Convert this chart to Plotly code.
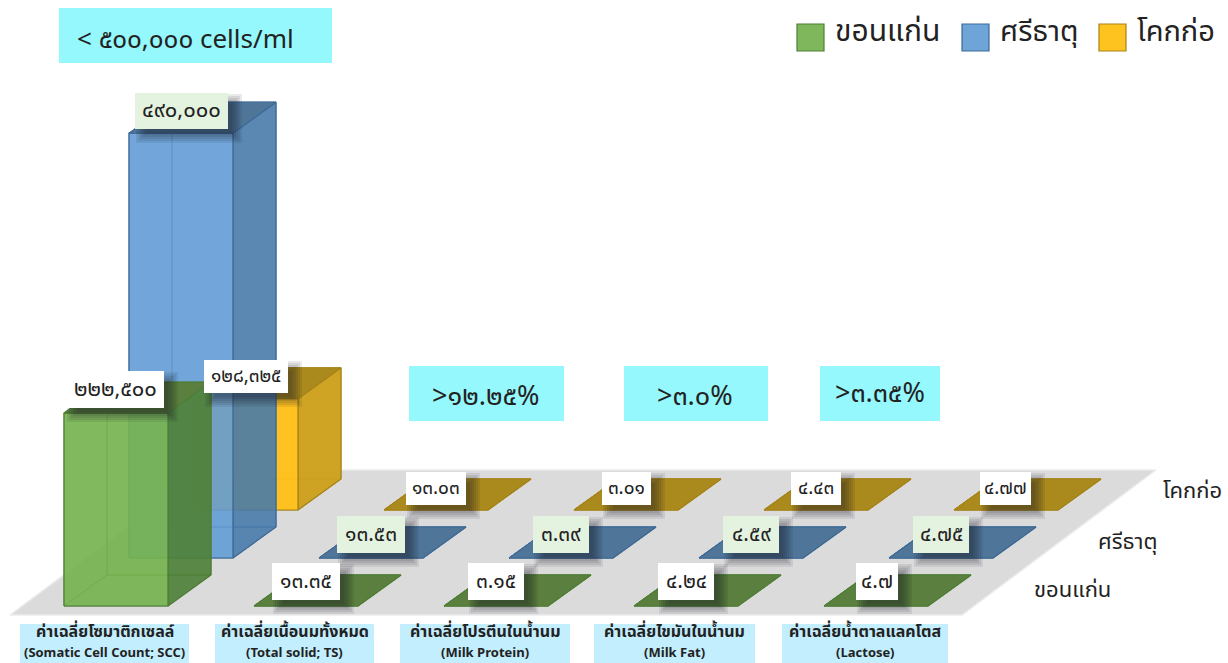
import plotly.graph_objects as go

# ---------- data ----------
categories_th = ["ค่าเฉลี่ยโซมาติกเซลล์", "ค่าเฉลี่ยเนื้อนมทั้งหมด", "ค่าเฉลี่ยโปรตีนในน้ำนม", "ค่าเฉลี่ยไขมันในน้ำนม", "ค่าเฉลี่ยน้ำตาลแลคโตส"]
categories_en = ["(Somatic Cell Count; SCC)", "(Total solid; TS)", "(Milk Protein)", "(Milk Fat)", "(Lactose)"]
series_names = ["ขอนแก่น", "ศรีธาตุ", "โคกก่อ"]
khon_kaen = [222500, 13.35, 3.15, 4.24, 4.7]
si_that = [490000, 13.53, 3.39, 4.59, 4.75]
khok_ko = [128325, 13.03, 3.01, 4.43, 4.77]
standards = ["< ๕๐๐,๐๐๐ cells/ml", ">๑๒.๒๕%", ">๓.๐%", ">๓.๓๕%"]

# ---------- style / geometry ----------
W, H = 1228, 663
PX_PER_UNIT = 0.000867        # value scale of the y axis
BASE_PX = 606                 # pixel row of value 0 on the front row
CAT_STEP, X0, BAR_W = 190, 64, 104
ROW_DX, ROW_DY = 65, 48
DEPTH_DX, DEPTH_DY = 43, 31
FONT = "Noto Sans Thai, Noto Sans, Tahoma, sans-serif"
TEXT = "#222222"

PAL = [
    dict(front="rgba(118,178,80,0.90)", side="rgba(78,128,55,0.90)", top="#5A7F3E", back="rgba(140,195,105,0.20)", line="#4F7F36"),
    dict(front="rgba(96,155,213,0.87)", side="rgba(70,121,168,0.87)", top="#4F7699", back="rgba(130,180,225,0.20)", line="#3F6A95"),
    dict(front="rgba(255,192,25,0.95)", side="rgba(204,160,30,0.95)", top="#AA8A1C", back="rgba(255,192,25,0.35)", line="#A5831A"),
]
SWATCH = ["#7FB75D", "#6FA4D8", "#FFC31F"]
SWATCH_LINE = ["#4F7F36", "#3F6A95", "#A5831A"]


def dy(px):
    """pixel distance -> y-axis units"""
    return px / PX_PER_UNIT


def py(p):
    """pixel row -> paper fraction"""
    return 1 - p / H


fig = go.Figure()


def poly(xs, ys, fill, line, lw=1.2):
    fig.add_trace(go.Scatter(x=xs + xs[:1], y=ys + ys[:1], mode="lines", fill="toself", fillcolor=fill,
                             line=dict(color=line, width=lw), hoverinfo="skip", showlegend=False))


# floor
fx, fy = 10, -dy(615 - BASE_PX)
fig.add_trace(go.Scatter(x=[fx, 962, 1156, 204, fx], y=[fy, fy, fy + dy(145), fy + dy(145), fy], mode="lines",
                         fill="toself", fillcolor="#DCDBDC", line=dict(color="#ECECEC", width=1.5),
                         hoverinfo="skip", showlegend=False))


def bar(i, s, v):
    c = PAL[s]
    x0 = X0 + CAT_STEP * i + ROW_DX * s
    x1 = x0 + BAR_W
    y0 = dy(ROW_DY * s)
    y1 = y0 + v
    d, e = DEPTH_DX, dy(DEPTH_DY)
    poly([x0 + d, x1 + d, x1 + d, x0 + d], [y0 + e, y0 + e, y1 + e, y1 + e], c["back"], c["line"], 0.8)  # back
    poly([x0, x0 + d, x0 + d, x0], [y0, y0 + e, y1 + e, y1], c["back"], c["line"], 0.8)                  # left
    poly([x0, x1, x1 + d, x0 + d], [y0, y0, y0 + e, y0 + e], c["back"], c["line"], 0.8)                  # bottom
    poly([x1, x1 + d, x1 + d, x1], [y0, y0 + e, y1 + e, y1], c["side"], c["line"])                        # right
    poly([x0, x1, x1, x0], [y0, y0, y1, y1], c["front"], c["line"])                                       # front
    poly([x0, x1, x1 + d, x0 + d], [y1, y1, y1 + e, y1 + e], c["top"], c["line"])                         # top


rows = [khon_kaen, si_that, khok_ko]
for s in [2, 1, 0]:
    for i, v in enumerate(rows[s]):
        bar(i, s, v)

shapes, annotations = [], []


def rect(x0, y0, x1, y1, color, line=None, lw=0):
    shapes.append(dict(type="rect", xref="x", yref="paper", x0=x0, x1=x1, y0=py(y1), y1=py(y0), layer="above",
                       fillcolor=color, line=dict(color=line or color, width=lw)))


def text(x, y, t, size, color=TEXT, xanchor="center"):
    annotations.append(dict(xref="x", yref="paper", x=x, y=py(y), text=t, showarrow=False, xanchor=xanchor,
                            yanchor="middle", align="center", font=dict(family=FONT, size=size, color=color)))


TH = str.maketrans("0123456789", "๐๑๒๓๔๕๖๗๘๙")


def th_num(v):
    return (f"{v:,}").translate(TH)


# value labels with soft shadows
BOX_W = {(0, 0): (66, 164), (0, 1): (135, 228), (0, 2): (204, 288),
         (1, 0): (272, 340), (1, 1): (337, 405), (1, 2): (406, 466),
         (2, 0): (468, 524), (2, 1): (533, 589), (2, 2): (602, 651),
         (3, 0): (658, 714), (3, 1): (723, 779), (3, 2): (791, 841),
         (4, 0): (856, 898), (4, 1): (913, 969), (4, 2): (980, 1031)}
BOX_Y = {0: (563, 600), 1: (516, 553), 2: (472, 505)}
BOX_Y_SCC = {0: (371, 408), 1: (93, 129), 2: (360, 393)}
BOX_BG = ["#FFFFFF", "#E4F2E0", "#FFFFFF"]
VALUE_SIZE = {0: 22, 1: 22, 2: 19}
for s in [2, 1, 0]:
    for i, v in enumerate(rows[s]):
        x0, x1 = BOX_W[(i, s)]
        y0, y1 = BOX_Y_SCC[s] if i == 0 else BOX_Y[s]
        for g in (7, 5, 3, 1, -1, -3):
            rect(x0 + 8 - g, y0 + 8 - g, x1 + 7 + g, y1 + 7 + g, "rgba(20,25,30,0.09)")
        rect(x0, y0, x1, y1, BOX_BG[s])
        size = VALUE_SIZE[s] if i == 0 else 21 - (s == 2) * 2
        text((x0 + x1) / 2, (y0 + y1) / 2, th_num(v), size)

# standards boxes
std_boxes = [(59, 8, 332, 63), (409, 366, 564, 421), (624, 366, 768, 421), (820, 366, 940, 421)]
std_text = [(185, 40), (486, 396), (695, 396), (880, 393)]
for t, (x0, y0, x1, y1), (tx, ty) in zip(standards, std_boxes, std_text):
    rect(x0, y0, x1, y1, "#94F8FC")
    text(tx, ty, t, 27 if tx > 200 else 26)

# category labels
cat_boxes = [(20, 189), (215, 374), (400, 570), (594, 755), (782, 948)]
for th, en, (x0, x1) in zip(categories_th, categories_en, cat_boxes):
    rect(x0, 624, x1, 663, "#C3EEFD")
    text((x0 + x1) / 2, 632, f"<b>{th}</b>", 16)
    text((x0 + x1) / 2, 653, f"<b>{en}</b>", 13)

# legend
legend_sizes = [30, 29, 29]
for k, (name, sx, tx) in enumerate(zip(series_names, [797, 962, 1099], [833, 998, 1135])):
    rect(sx, 24, sx + 27, 51, SWATCH[k], SWATCH_LINE[k], 1.2)
    text(tx, 32, name, legend_sizes[k], xanchor="left")

# depth axis labels
for name, x, y in zip(series_names, [1072, 1127, 1192], [590, 542, 491]):
    text(x, y, name, 22)

fig.update_layout(
    width=W, height=H, margin=dict(l=0, r=0, t=0, b=0), paper_bgcolor="white", plot_bgcolor="white",
    showlegend=False, shapes=shapes, annotations=annotations,
    xaxis=dict(range=[0, W], visible=False, fixedrange=True),
    yaxis=dict(range=[-dy(H - BASE_PX), dy(BASE_PX)], visible=False, fixedrange=True),
)
fig.write_html("out.html", config=dict(displayModeBar=False),
               post_script="document.body.style.margin='0';document.body.style.overflow='hidden';")
